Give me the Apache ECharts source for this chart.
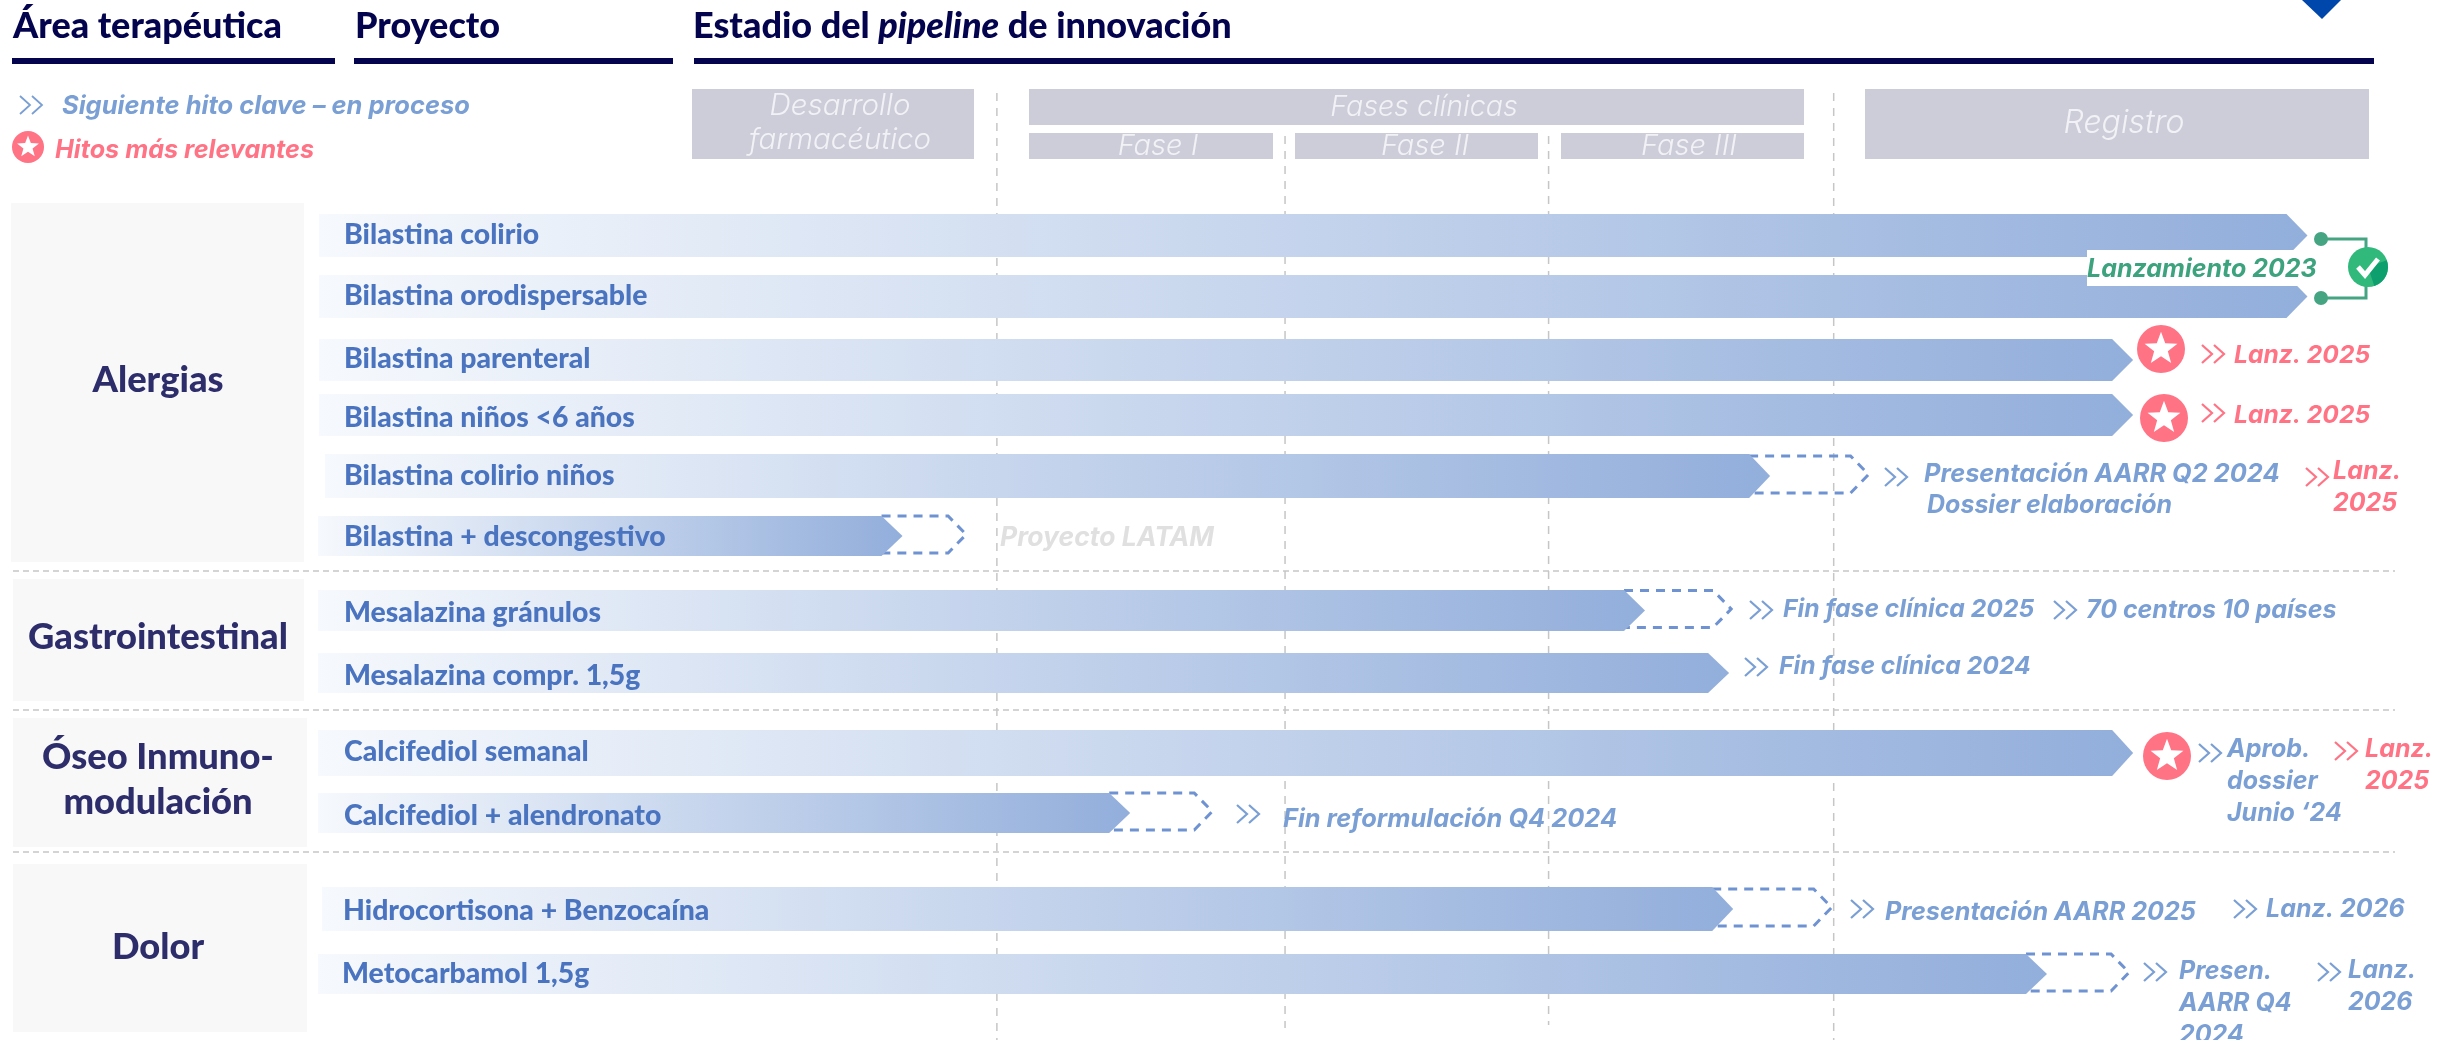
<!DOCTYPE html>
<html>
<head>
<meta charset="utf-8">
<title>Pipeline de innovación</title>
<script src="https://cdn.jsdelivr.net/npm/echarts@6/dist/echarts.min.js"></script>
<style>
html, body { margin: 0; padding: 0; background: #fff; }
#chart { width: 2448px; height: 1040px; }
</style>
</head>
<body>
<div id="chart"></div>
<script>
// datos del pipeline
const projects = [
  "Bilastina colirio", "Bilastina orodispersable", "Bilastina parenteral", "Bilastina niños <6 años",
  "Bilastina colirio niños", "Bilastina + descongestivo", "Mesalazina gránulos", "Mesalazina compr. 1,5g",
  "Calcifediol semanal", "Calcifediol + alendronato", "Hidrocortisona + Benzocaína", "Metocarbamol 1,5g"
];
const progress = [97.0, 97.0, 88.5, 88.5, 70.8, 28.5, 64.7, 68.8, 88.5, 39.6, 69.0, 84.3];
const planned = [null, null, null, null, 75.6, 31.6, 68.9, null, null, 43.6, 73.8, 88.3];
const phaseEdges = [33.1, 47.15, 60.0, 73.9];
const areas = ["Alergias", "Gastrointestinal", "Óseo Inmuno-\nmodulación", "Dolor"];
const phases = ["Desarrollo\nfarmacéutico", "Fases clínicas", "Fase I", "Fase II", "Fase III", "Registro"];
const notes = [
  "Lanz. 2025", "Lanz. 2025", "Presentación AARR Q2 2024", "Dossier elaboración", "Lanz.\n2025",
  "Proyecto LATAM", "Fin fase clínica 2025", "70 centros 10 países", "Fin fase clínica 2024",
  "Aprob.\ndossier\nJunio ‘24", "Lanz.\n2025", "Fin reformulación Q4 2024", "Presentación AARR 2025",
  "Lanz. 2026", "Presen.\nAARR Q4\n2024", "Lanz.\n2026"
];
const noteKind = ["red", "red", "blue", "blue", "red", "grey", "blue", "blue", "blue", "blue", "red", "blue", "blue", "blue", "blue", "blue"];

// maquetación (píxeles)
const rowTop = [214, 275, 339, 394, 454, 516, 590, 653, 730, 793, 887, 954];
const rowBottom = [257, 318, 381, 436, 498, 556, 631, 693, 776, 833, 931, 994];
const rowStart = [0.05, 0.05, 0.05, 0.05, 0.34, 0, 0, 0, 0, 0, 0.2, 0];
const labelX = [344, 344, 344, 344, 344, 344, 344, 344, 344, 344, 343, 342];
const labelY = [235, 296, 359, 418, 476, 537, 613, 676, 752, 816, 911, 974];
const panelBox = [[11, 203, 293, 359], [13, 579, 291, 122], [13, 718, 294, 129], [13, 864, 294, 168]];
const areaY = [380, 637, 757, 947];
const phaseBox = [[692, 89, 282, 70], [1029, 89, 775, 36], [1029, 133, 244, 26], [1295, 133, 243, 26], [1561, 133, 243, 26], [1865, 89, 504, 70]];
const phaseLabelY = [106, 107, 146, 146, 146, 123];
const phaseLabelX = [840, 1424, 1158, 1425, 1689, 2124];
const phaseSize = [29.5, 28.6, 29, 29, 29, 32];
const noteSpot = [
  [2202, 354, 2234, 356], [2202, 413, 2234, 416], [1885, 477, 1924, 474], [null, null, 1927, 505], [2306, 477, 2333, 471],
  [null, null, 1000, 538], [1750, 610, 1783, 610], [2054, 610, 2086, 610], [1745, 667, 1779, 667],
  [2199, 753, 2227, 749], [2335, 751, 2365, 749], [1237, 814, 1283, 819], [1851, 909, 1885, 912],
  [2234, 909, 2266, 909], [2144, 972, 2179, 971], [2318, 972, 2348, 970]
];
const noteSize = [24.6, 24.6, 25.4, 25, 25, 26.5, 24.7, 25, 24.7, 25, 25, 25.4, 25.2, 25, 25, 25];
const starSpot = [[28, 147, 16], [2161, 349, 24], [2164, 418, 24], [2167, 756, 24]];

const colors = { red: "#ff7385", blue: "#7a9fd4", grey: "#e0e0e0", navy: "#04044e", area: "#2e2d6b", label: "#4a74c0", green: "#3da37f" };
const headFont = "Lato";
const noteFont = "Inter";

function rect(b, fill) {
  return { type: "rect", z: 1, shape: { x: b[0], y: b[1], width: b[2], height: b[3] }, style: { fill: fill } };
}

function txt(x, y, s, fill, font, align) {
  return { type: "text", z: 5, style: { x: x, y: y, text: s, fill: fill, font: font, textAlign: align || "left", textVerticalAlign: "middle" } };
}

function chevrons(x, y, color, w) {
  const out = [];
  [0, 12].forEach(function (d) {
    out.push({
      type: "polyline", z: 5,
      shape: { points: [[x + d, y - 9], [x + d + 10, y], [x + d, y + 9]] },
      style: { stroke: color, lineWidth: w || 2.2, fill: null }
    });
  });
  return out;
}

function star(cx, cy, r) {
  const pts = [];
  const outer = r * 0.72, inner = r * 0.3;
  for (let i = 0; i < 10; i++) {
    const a = -Math.PI / 2 + i * Math.PI / 5;
    const k = i % 2 ? inner : outer;
    pts.push([cx + k * Math.cos(a), cy + k * Math.sin(a)]);
  }
  return [
    { type: "circle", z: 5, shape: { cx: cx, cy: cy, r: r }, style: { fill: colors.red } },
    { type: "polygon", z: 6, shape: { points: pts }, style: { fill: "#fff" } }
  ];
}

function buildGraphic() {
  let g = [];
  // cabecera
  [[12, 323], [354, 319], [694, 1680]].forEach(function (b) {
    g.push(rect([b[0], 58, b[1], 6], colors.navy));
  });
  g.push({ type: "polygon", z: 2, shape: { points: [[2302, 0], [2341, 0], [2322, 19]] }, style: { fill: "#0047ab" } });
  g.push(txt(13, 26, "Área terapéutica", colors.navy, "900 36px " + headFont));
  g.push(txt(355, 26, "Proyecto", colors.navy, "900 36px " + headFont));
  g.push({
    type: "text", z: 5,
    style: {
      x: 693, y: 26, text: "Estadio del {i|pipeline} de innovación", fill: colors.navy, font: "900 36px " + headFont,
      textVerticalAlign: "middle",
      rich: { i: { font: "italic 900 36px " + headFont, fill: colors.navy } }
    }
  });
  // leyenda
  g = g.concat(chevrons(20, 105, colors.blue, 1.8));
  g.push(txt(62, 106, "Siguiente hito clave – en proceso", colors.blue, "italic 700 25.5px " + noteFont));
  g.push(txt(55, 150, "Hitos más relevantes", colors.red, "italic 700 25.2px " + noteFont));
  // cajas de fase
  phaseBox.forEach(function (b, i) {
    g.push(rect(b, "#cccdd9"));
    const lines = phases[i].split("\n");
    lines.forEach(function (l, j) {
      g.push(txt(phaseLabelX[i], lines.length > 1 ? phaseLabelY[i] + j * 34 : phaseLabelY[i], l, "#f2f2f6", "italic 300 " + phaseSize[i] + "px " + noteFont, "center"));
    });
  });
  // áreas
  panelBox.forEach(function (b, i) {
    g.push(rect(b, "#f8f8f8"));
    areas[i].split("\n").forEach(function (l, j) {
      g.push(txt(158, areaY[i] + j * 45, l, colors.area, "900 36.3px " + headFont, "center"));
    });
  });
  // separadores
  [571, 710, 852].forEach(function (y) {
    g.push({ type: "line", z: 2, shape: { x1: 13, y1: y, x2: 2395, y2: y }, style: { stroke: "#d4d4d4", lineWidth: 2, lineDash: [6, 4] } });
  });
  // hitos
  starSpot.forEach(function (s) { g = g.concat(star(s[0], s[1], s[2])); });
  // notas
  notes.forEach(function (n, i) {
    const s = noteSpot[i];
    const c = colors[noteKind[i]];
    if (s[0] !== null) g = g.concat(chevrons(s[0], s[1], c));
    n.split("\n").forEach(function (l, j) {
      g.push(txt(s[2], s[3] + j * 32, l, c, "italic 700 " + noteSize[i] + "px " + noteFont));
    });
  });
  // lanzamiento 2023
  g.push({ type: "polyline", z: 6, shape: { points: [[2321, 239], [2366, 239], [2366, 298], [2321, 298]] }, style: { stroke: "#45a583", lineWidth: 3, fill: null } });
  g.push({ type: "circle", z: 6, shape: { cx: 2321, cy: 239, r: 7 }, style: { fill: "#45a583" } });
  g.push({ type: "circle", z: 6, shape: { cx: 2321, cy: 298, r: 7 }, style: { fill: "#45a583" } });
  g.push({ type: "rect", z: 6, shape: { x: 2087, y: 250, width: 232, height: 36 }, style: { fill: "#fff" } });
  g.push(txt(2087, 269, "Lanzamiento 2023", colors.green, "italic 700 25px " + noteFont));
  g[g.length - 1].z = 7;
  g.push({ type: "circle", z: 7, shape: { cx: 2368, cy: 267, r: 20 }, style: { fill: "#31b97c" } });
  g.push({ type: "sector", z: 7, shape: { cx: 2368, cy: 267, r: 20, startAngle: -0.35, endAngle: 1.25 }, style: { fill: "#0da06e" } });
  g.push({ type: "polyline", z: 8, shape: { points: [[2358, 267], [2365, 275], [2378, 259]] }, style: { stroke: "#fff", lineWidth: 5, fill: null } });
  return g;
}

function renderPhaseEdge(params, api) {
  const a = api.coord([api.value(0), api.value(1)]);
  const b = api.coord([api.value(0), api.value(2)]);
  return {
    type: "line", z2: 0,
    shape: { x1: a[0], y1: a[1], x2: b[0], y2: b[1] },
    style: { stroke: "#c6c6c6", lineWidth: 1.5, lineDash: [8, 7] }
  };
}

function renderBar(params, api) {
  const i = params.dataIndex;
  const top = rowTop[i], bottom = rowBottom[i];
  const start = api.coord([rowStart[i], top]);
  const tip = api.coord([api.value(0), (top + bottom) / 2]);
  const lo = api.coord([0, bottom])[1];
  const shoulder = tip[0] - 21;
  const children = [];
  const dashEnd = api.value(1);
  if (!isNaN(dashEnd) && dashEnd !== null) {
    const dt = api.coord([dashEnd, tip[1] - 1.5]);
    const ds = dt[0] - 18;
    children.push({
      type: "polyline",
      shape: { points: [[shoulder, dt[1] - 18.5], [ds, dt[1] - 18.5], [dt[0], dt[1]], [ds, dt[1] + 18.5], [shoulder, dt[1] + 18.5]] },
      style: { stroke: "#6f93d2", lineWidth: 3, lineDash: [9, 7], fill: null }
    });
  }
  children.push({
    type: "polygon",
    shape: { points: [[start[0], start[1]], [shoulder, start[1]], [tip[0], tip[1]], [shoulder, lo], [start[0], lo]] },
    style: {
      fill: new echarts.graphic.LinearGradient(0, 0, 1, 0, [
        { offset: 0, color: "#f6f9fd" },
        { offset: 1, color: "#92aedb" }
      ])
    }
  });
  children.push({
    type: "text",
    style: { x: labelX[i], y: labelY[i], text: projects[i], fill: colors.label, font: "900 28.4px " + headFont, textVerticalAlign: "middle" }
  });
  return { type: "group", children: children };
}

const myChart = echarts.init(document.getElementById("chart"), null, { renderer: "canvas" });
myChart.setOption({
  animation: false,
  backgroundColor: "#fff",
  grid: { left: 318, right: 79, top: 0, bottom: 0 },
  xAxis: { type: "value", min: 0, max: 100, show: false },
  yAxis: { type: "value", min: 0, max: 1040, inverse: true, show: false },
  graphic: buildGraphic(),
  series: [
    {
      type: "custom", z: 2, renderItem: renderPhaseEdge, silent: true,
      encode: { x: 0, y: [1, 2] },
      data: [
        [phaseEdges[0], 93, 1040],
        [phaseEdges[1], 136, 1028],
        [phaseEdges[2], 136, 1025],
        [phaseEdges[3], 93, 1040]
      ]
    },
    {
      type: "custom", z: 3, renderItem: renderBar, silent: true,
      data: progress.map(function (v, i) { return [v, planned[i] === null ? NaN : planned[i]]; })
    }
  ]
});
window.addEventListener("resize", function () { myChart.resize(); });
</script>
</body>
</html>
